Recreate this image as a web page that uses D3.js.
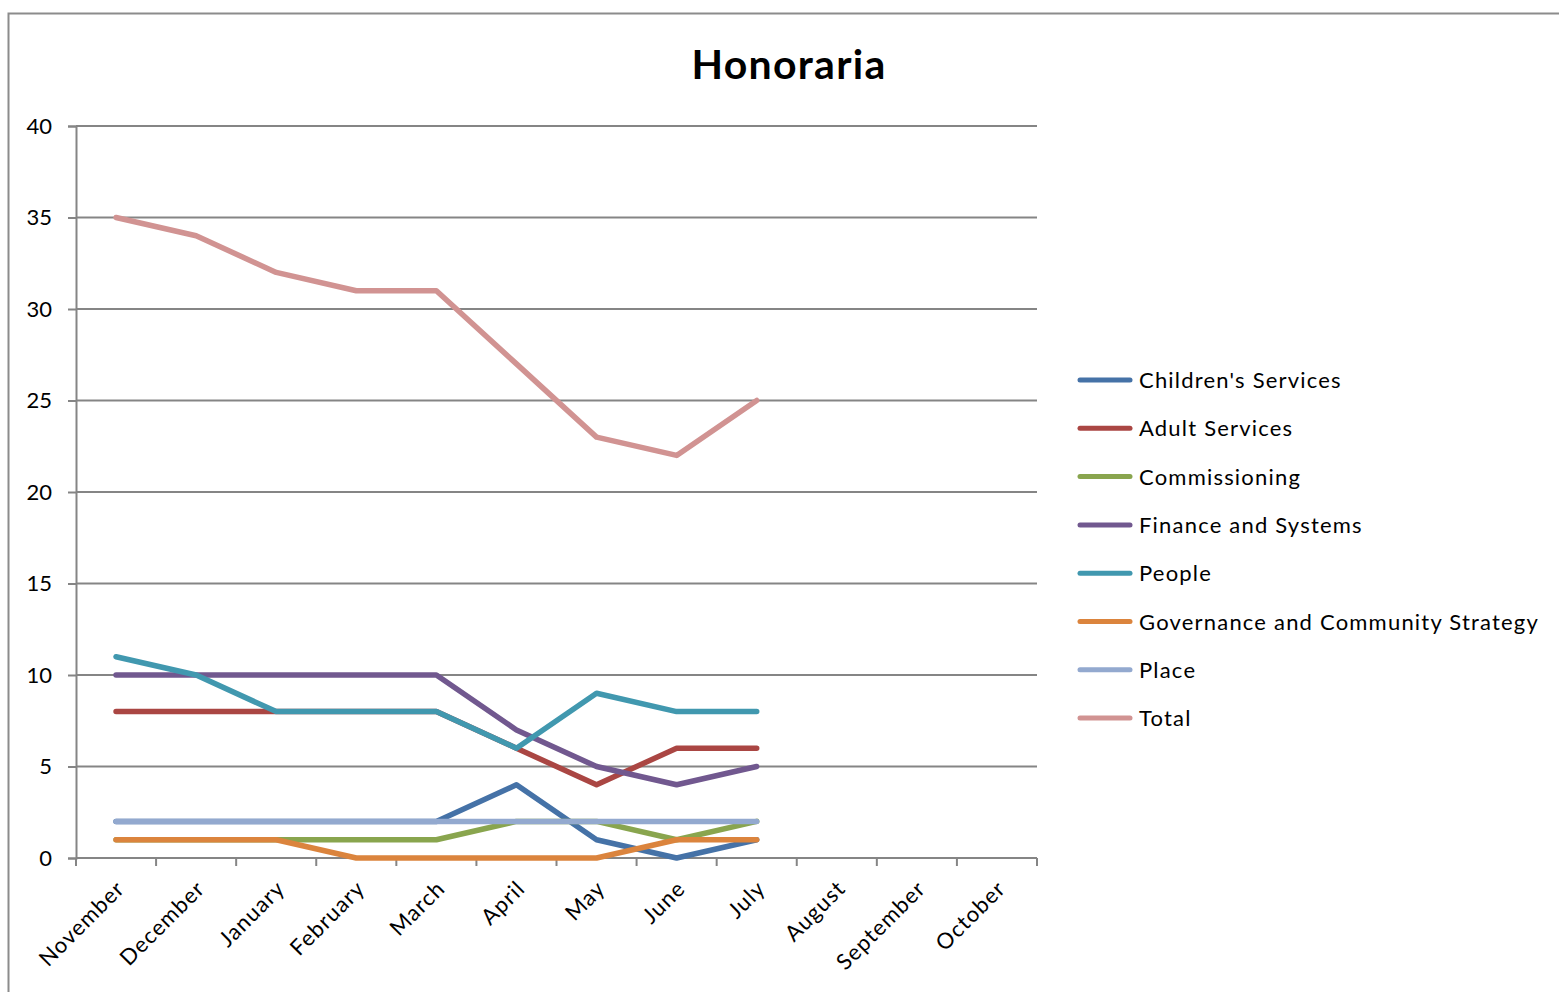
<!DOCTYPE html>
<html>
<head>
<meta charset="utf-8">
<script src="https://cdn.jsdelivr.net/npm/d3@7"></script>
<style>
  html, body { margin: 0; padding: 0; background: #fff; }
  svg { display: block; }
  text { font-family: "Lato", "Open Sans", sans-serif; fill: #000; }
</style>
</head>
<body>
<svg id="chart" width="1559" height="992"></svg>
<script>
// Months on the category axis (reporting year Nov–Oct)
const months = ["November", "December", "January", "February", "March", "April",
                "May", "June", "July", "August", "September", "October"];

// Monthly honoraria counts per directorate (Nov–Jul reported so far)
const childrensServices   = [2, 2, 2, 2, 2, 4, 1, 0, 1];
const adultServices       = [8, 8, 8, 8, 8, 6, 4, 6, 6];
const commissioning       = [1, 1, 1, 1, 1, 2, 2, 1, 2];
const financeAndSystems   = [10, 10, 10, 10, 10, 7, 5, 4, 5];
const people              = [11, 10, 8, 8, 8, 6, 9, 8, 8];
const governance          = [1, 1, 1, 0, 0, 0, 0, 1, 1];
const place               = [2, 2, 2, 2, 2, 2, 2, 2, 2];
const total               = [35, 34, 32, 31, 31, 27, 23, 22, 25];

const seriesNames = ["Children's Services", "Adult Services", "Commissioning",
                     "Finance and Systems", "People", "Governance and Community Strategy",
                     "Place", "Total"];
const seriesValues = [childrensServices, adultServices, commissioning, financeAndSystems,
                      people, governance, place, total];
const seriesColors = ["#4572A7", "#AA4643", "#89A54E", "#71588F",
                      "#4198AF", "#DB843D", "#93A9CF", "#D19392"];

const yTicks = [0, 5, 10, 15, 20, 25, 30, 35, 40];

const svg = d3.select("#chart");

// Outer chart frame
svg.append("rect")
  .attr("x", 8.5).attr("y", 13.5)
  .attr("width", 1600).attr("height", 1100)
  .attr("fill", "none").attr("stroke", "#8c8c8c").attr("stroke-width", 2);

const plot = { left: 76, right: 1037, top: 126, bottom: 858 };

const x = d3.scaleBand().domain(months).range([plot.left, plot.right]).padding(0);
const y = d3.scaleLinear().domain([0, 40]).range([plot.bottom, plot.top]);

// Title
svg.append("text")
  .attr("x", 789).attr("y", 79)
  .attr("text-anchor", "middle")
  .attr("font-size", 41).attr("font-weight", "bold")
  .attr("letter-spacing", 1.3)
  .text("Honoraria");

// Horizontal gridlines
svg.append("g")
  .selectAll("line")
  .data(yTicks.filter(d => d > 0))
  .join("line")
  .attr("x1", plot.left).attr("x2", plot.right)
  .attr("y1", d => y(d)).attr("y2", d => y(d))
  .attr("stroke", "#858585").attr("stroke-width", 2);

// Y axis
const yAxis = svg.append("g")
  .attr("transform", `translate(${plot.left},0)`)
  .call(d3.axisLeft(y).tickValues(yTicks).tickSize(8).tickPadding(16));
yAxis.select(".domain").attr("stroke", "#858585").attr("stroke-width", 2);
yAxis.selectAll(".tick line").attr("stroke", "#858585").attr("stroke-width", 2);
yAxis.selectAll(".tick text")
  .attr("font-size", 22).attr("font-family", "Lato, 'Open Sans', sans-serif").attr("fill", "#000");

// X axis: ticks on category boundaries
const xAxisG = svg.append("g");
xAxisG.append("line")
  .attr("x1", plot.left).attr("x2", plot.right)
  .attr("y1", plot.bottom).attr("y2", plot.bottom)
  .attr("stroke", "#858585").attr("stroke-width", 2);
const boundaries = months.map(m => x(m)).concat([x(months[months.length - 1]) + x.bandwidth()]);
xAxisG.selectAll("line.tick")
  .data(boundaries)
  .join("line")
  .attr("class", "tick")
  .attr("x1", d => d).attr("x2", d => d)
  .attr("y1", plot.bottom).attr("y2", plot.bottom + 8)
  .attr("stroke", "#858585").attr("stroke-width", 2);

xAxisG.selectAll("text")
  .data(months)
  .join("text")
  .attr("transform", d => `translate(${x(d) + x.bandwidth() / 2 + 10},${plot.bottom + 32}) rotate(-45)`)
  .attr("text-anchor", "end")
  .attr("font-size", 22)
  .attr("letter-spacing", 1.1)
  .text(d => d);

// Series lines
const line = d3.line()
  .x((d, i) => x(months[i]) + x.bandwidth() / 2)
  .y(d => y(d));

svg.append("g")
  .selectAll("path")
  .data(seriesValues)
  .join("path")
  .attr("d", d => line(d))
  .attr("fill", "none")
  .attr("stroke", (d, i) => seriesColors[i])
  .attr("stroke-width", 5.5)
  .attr("stroke-linejoin", "round")
  .attr("stroke-linecap", "round");

// Legend
const legend = svg.append("g");
const legendRow = legend.selectAll("g")
  .data(seriesNames)
  .join("g")
  .attr("transform", (d, i) => `translate(1080,${380 + i * 48.3})`);
legendRow.append("line")
  .attr("x1", 0).attr("x2", 50)
  .attr("y1", 0).attr("y2", 0)
  .attr("stroke", (d, i) => seriesColors[i])
  .attr("stroke-width", 5)
  .attr("stroke-linecap", "round");
legendRow.append("text")
  .attr("x", 59).attr("y", 8)
  .attr("font-size", 22)
  .attr("letter-spacing", 1.2)
  .text(d => d);
</script>
</body>
</html>
